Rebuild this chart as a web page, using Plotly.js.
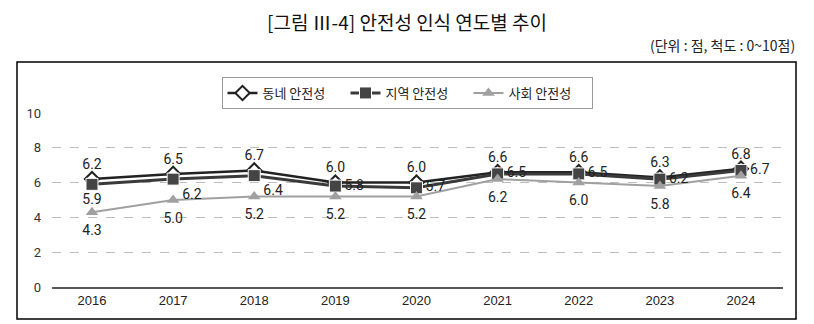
<!DOCTYPE html>
<html>
<head>
<meta charset="utf-8">
<script src="https://cdn.plot.ly/plotly-3.0.1.min.js"></script>
<style>html,body{margin:0;padding:0;background:#fff;}#chart{width:814px;height:324px;}</style>
</head>
<body>
<div id="chart"></div>
<script>
const years = ['2016','2017','2018','2019','2020','2021','2022','2023','2024'];
const neighborhood = [6.2, 6.5, 6.7, 6.0, 6.0, 6.6, 6.6, 6.3, 6.8];
const region = [5.9, 6.2, 6.4, 5.8, 5.7, 6.5, 6.5, 6.2, 6.7];
const society = [4.3, 5.0, 5.2, 5.2, 5.2, 6.2, 6.0, 5.8, 6.4];
const seriesNames = ['동네 안전성', '지역 안전성', '사회 안전성'];
const yTicks = [0, 2, 4, 6, 8, 10];

const regionPos = ['bottom center','bottom right','bottom right','middle right','middle right','middle right','middle right','middle right','middle right'];
const labelFont = {family: 'Roboto, "Noto Sans", sans-serif', size: 14, color: '#222'};
const fmt = a => a.map(v => v.toFixed(1));
const ghost = s => ({size: s, color: 'rgba(0,0,0,0)', opacity: 0});

const traces = [
  {x: years, y: neighborhood, name: seriesNames[0], mode: 'lines+markers', type: 'scatter',
   line: {color: '#222', width: 2.5}, marker: {symbol: 'diamond', size: 11, color: '#fff', line: {color: '#222', width: 2}}},
  {x: years, y: region, name: seriesNames[1], mode: 'lines+markers', type: 'scatter',
   line: {color: '#3a3a3a', width: 3}, marker: {symbol: 'square', size: 12, color: '#444', line: {color: '#fff', width: 1}}},
  {x: years, y: society, name: seriesNames[2], mode: 'lines+markers', type: 'scatter',
   line: {color: '#a0a0a0', width: 2}, marker: {symbol: 'triangle-up', size: 11, color: '#a0a0a0'}},
  {x: years, y: society, mode: 'markers+text', marker: ghost(18), text: fmt(society), textposition: 'bottom center', textfont: labelFont, showlegend: false, hoverinfo: 'skip'},
  {x: years, y: region, mode: 'markers+text', marker: ghost(13), text: fmt(region), textposition: regionPos, textfont: labelFont, showlegend: false, hoverinfo: 'skip'},
  {x: years, y: neighborhood, mode: 'markers+text', marker: ghost(9), text: fmt(neighborhood), textposition: 'top center', textfont: labelFont, showlegend: false, hoverinfo: 'skip'}
];

const L = 52, R = 783, T = 113, B = 287;
const W = R - L, H = B - T;
const px = v => (v - L) / W;
const py = v => (B - v) / H;

const layout = {
  width: 814, height: 324,
  margin: {l: L, r: 814 - R, t: T, b: 324 - B, pad: 0},
  paper_bgcolor: '#fff', plot_bgcolor: '#fff',
  font: {family: '"Noto Sans CJK KR", sans-serif', color: '#222'},
  title: {text: '[그림 Ⅲ-4] 안전성 인식 연도별 추이', font: {family: '"Noto Sans CJK KR", sans-serif', size: 19, color: '#111'},
          x: 0.5, xref: 'container', xanchor: 'center', y: 1 - 23/324, yref: 'container', yanchor: 'middle'},
  showlegend: true,
  legend: {orientation: 'h', traceorder: 'normal', x: 407/814, xref: 'container', xanchor: 'center',
           y: 1 - 77/324, yref: 'container', yanchor: 'top', entrywidth: 78, entrywidthmode: 'pixels',
           bordercolor: '#999', borderwidth: 1, bgcolor: '#fff',
           font: {family: '"Noto Sans CJK KR", sans-serif', size: 13, color: '#222'}},
  xaxis: {type: 'category', range: [-0.493, 8.518], showgrid: false, zeroline: false,
          showline: true, linecolor: '#555', linewidth: 2, ticks: '',
          tickfont: {family: '"Liberation Sans Narrow", "Liberation Sans", sans-serif', size: 13, color: '#222'}, fixedrange: true},
  yaxis: {range: [0, 10], tickvals: yTicks, ticktext: yTicks.map(String), showgrid: true, gridcolor: '#bdbdbd',
          griddash: 'dash', gridwidth: 1, zeroline: false, showline: false, ticks: '', ticklabelstandoff: 10,
          tickfont: {family: 'Roboto, "Noto Sans", sans-serif', size: 13, color: '#333'}, fixedrange: true},
  shapes: [
    {type: 'rect', xref: 'paper', yref: 'paper', x0: px(17), x1: px(796), y0: py(319), y1: py(62),
     line: {color: '#000', width: 1.5}, fillcolor: 'rgba(0,0,0,0)', layer: 'below'}
  ],
  annotations: [
    {text: '(단위 : 점, 척도 : 0~10점)', xref: 'paper', yref: 'paper', x: px(797), y: py(45),
     xanchor: 'right', yanchor: 'middle', showarrow: false,
     font: {family: '"Noto Sans CJK KR", sans-serif', size: 14, color: '#222'}}
  ]
};

Plotly.newPlot('chart', traces, layout, {displayModeBar: false, staticPlot: true});
</script>
</body>
</html>
